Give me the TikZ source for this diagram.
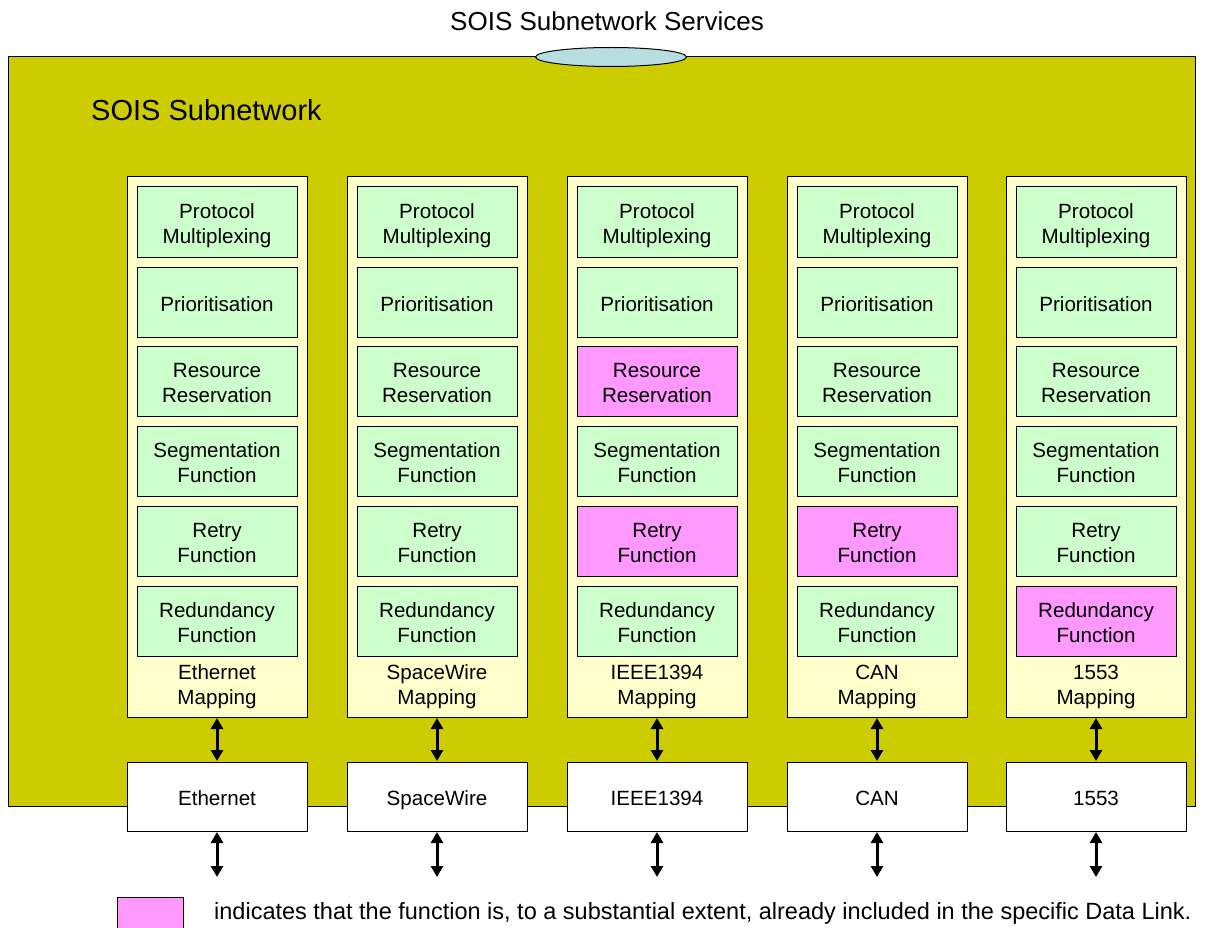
\documentclass[tikz,border=0pt]{standalone}
\usepackage{fontspec}
\setmainfont{Liberation Sans}
\usetikzlibrary{arrows.meta,shapes.geometric}
\definecolor{olive}{HTML}{CCCC00}
\definecolor{colyel}{HTML}{FFFFCC}
\definecolor{fgreen}{HTML}{CCFFCC}
\definecolor{fpink}{HTML}{FF99FF}
\definecolor{ellblue}{HTML}{B7DEE0}
\newcommand\ls{\rule[-3.1pt]{0pt}{25pt}}
\newcommand\nolskip{\lineskiplimit=-30pt\relax\lineskip=0pt\relax}
\tikzset{
  basefont/.style={font=\fontsize{20.6}{25}\selectfont\nolskip},
  column/.style={draw, line width=1pt, fill=colyel, minimum width=180pt, minimum height=540pt, inner sep=0pt},
  func/.style={draw, line width=1pt, fill=fgreen, minimum width=160pt, minimum height=70pt, inner sep=0pt, align=center, basefont},
  pfunc/.style={func, fill=fpink},
  link/.style={draw, line width=1pt, fill=white, minimum width=180pt, minimum height=69pt, inner sep=0pt, align=center, basefont},
  maptext/.style={align=center, basefont, inner sep=0pt},
  dbl/.style={line width=3pt, {Triangle[length=11pt,width=12pt]}-{Triangle[length=11pt,width=12pt]}, shorten <=0.5pt, shorten >=0.5pt}
}
\begin{document}
\begin{tikzpicture}[x=1pt,y=-1pt]
\useasboundingbox (0,0) rectangle (1207,928);
\node[font=\fontsize{26}{30}\selectfont] (title) at (607,21) {SOIS Subnetwork Services};
\node[draw, line width=1pt, fill=olive, minimum width=1187pt, minimum height=749pt, inner sep=0pt] (subnet) at (601.5,431.5) {};
\node[draw, line width=1pt, fill=ellblue, ellipse, minimum width=151pt, minimum height=19pt, inner sep=0pt] (svc) at (611,57) {};
\node[font=\fontsize{29}{33}\selectfont, anchor=west, inner sep=0pt] (sublabel) at (91,110) {SOIS Subnetwork};

\foreach \i/\x/\map/\lnk/\pa/\pb/\pc/\pd/\pe/\pf in {
  1/217/{Ethernet}/Ethernet/func/func/func/func/func/func,
  2/437/{SpaceWire}/SpaceWire/func/func/func/func/func/func,
  3/657/{IEEE1394}/IEEE1394/func/func/pfunc/func/pfunc/func,
  4/877/{CAN}/CAN/func/func/func/func/pfunc/func,
  5/1096/{1553}/1553/func/func/func/func/func/pfunc}{
  \node[column] (col\i) at (\x,447) {};
  \node[\pa] (pm\i) at (\x,222) {\ls Protocol\\\ls Multiplexing};
  \node[\pb] (pr\i) at (\x,302) {\ls Prioritisation};
  \node[\pc] (rr\i) at (\x,381) {\ls Resource\\\ls Reservation};
  \node[\pd] (sf\i) at (\x,461) {\ls Segmentation\\\ls Function};
  \node[\pe] (rf\i) at (\x,541) {\ls Retry\\\ls Function};
  \node[\pf] (rd\i) at (\x,621) {\ls Redundancy\\\ls Function};
  \node[maptext] (map\i) at (\x,683.5) {\ls\map\\\ls Mapping};
  \node[link] (lnk\i) at (\x,796.5) {\ls\lnk};
  \coordinate (end\i) at (\x,877.5);
  \draw[dbl] (col\i.south) -- (lnk\i.north);
  \draw[dbl] (lnk\i.south) -- (end\i);
}

\node[draw, line width=1pt, fill=fpink, minimum width=66pt, minimum height=34pt, inner sep=0pt] (legbox) at (150,914) {};
\node[anchor=west, font=\fontsize{23.5}{28}\selectfont, inner sep=0pt] (legtext) at (214,913) {indicates that the function is, to a substantial extent, already included in the specific Data Link.};
\end{tikzpicture}
\end{document}
